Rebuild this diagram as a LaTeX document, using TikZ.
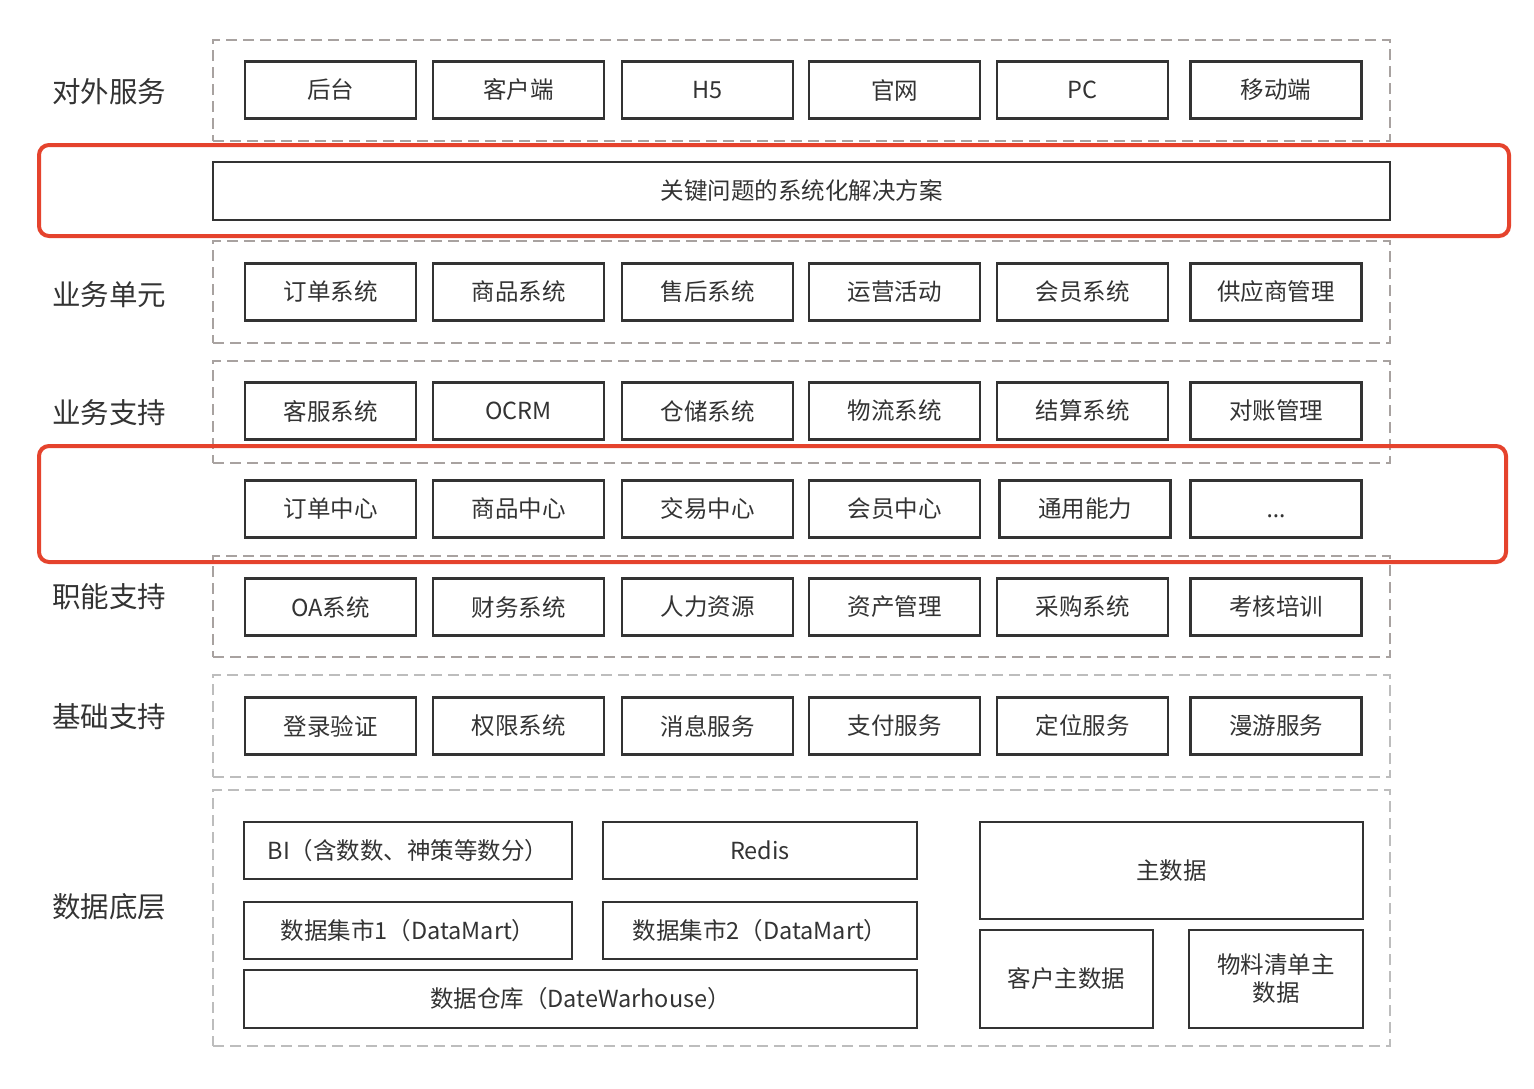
\documentclass[tikz,border=0pt]{standalone}
\usepackage{fontspec}
\setmainfont{Noto Sans CJK SC}
\newfontfamily\latinf{Noto Sans}
\definecolor{txt}{HTML}{333333}
\definecolor{frame}{HTML}{A8A2A0}
\definecolor{frameb}{HTML}{BDBDBD}
\definecolor{redc}{HTML}{E5432D}
\begin{document}
\begin{tikzpicture}[x=1pt,y=-1pt,
  box/.style={draw=txt,line width=2.4pt,rectangle,inner sep=0pt,text=txt,
    font=\fontsize{23.5}{28}\selectfont,minimum width=171pt,minimum height=57pt,align=center},
  layer/.style={draw=frame,line width=2pt,dash pattern=on 11pt off 6pt,rectangle,inner sep=0pt},
  lbl/.style={text=txt,font=\fontsize{28.5}{32}\selectfont,inner sep=0pt},
  hilite/.style={draw=redc,line width=4pt,rounded corners=10pt}]
\useasboundingbox (0,0) rectangle (1534,1088);
% dashed layer frames
\node[layer,minimum width=1177pt,minimum height=101pt] (L1) at (801.5,90.5) {};
\node[layer,minimum width=1177pt,minimum height=102pt] (L2) at (801.5,292) {};
\node[layer,minimum width=1177pt,minimum height=102pt] (L3) at (801.5,412) {};
\node[layer,minimum width=1177pt,minimum height=101pt] (L4) at (801.5,606.5) {};
\node[layer,draw=frameb,minimum width=1177pt,minimum height=102pt] (L5) at (801.5,726) {};
\node[layer,draw=frameb,minimum width=1177pt,minimum height=256pt] (L6) at (801.5,918) {};
% left labels
\node[lbl] (t1) at (109,92) {对外服务};
\node[lbl] (t2) at (109,295) {业务单元};
\node[lbl] (t3) at (109,413) {业务支持};
\node[lbl] (t4) at (109,597) {职能支持};
\node[lbl] (t5) at (109,717) {基础支持};
\node[lbl] (t6) at (109,907) {数据底层};
% row 1
\node[box] (a1) at (330.5,90) {后台};
\node[box] (a2) at (518.5,90) {客户端};
\node[box] (a3) at (707.5,90) {H5};
\node[box] (a4) at (894.5,90) {官网};
\node[box] (a5) at (1082.5,90) {PC};
\node[box] (a6) at (1276,90) {移动端};
% key solution
\node[box,minimum width=1177pt,minimum height=58pt] (key) at (801.5,191) {关键问题的系统化解决方案};
% row 2
\node[box] (b1) at (330.5,292) {订单系统};
\node[box] (b2) at (518.5,292) {商品系统};
\node[box] (b3) at (707.5,292) {售后系统};
\node[box] (b4) at (894.5,292) {运营活动};
\node[box] (b5) at (1082.5,292) {会员系统};
\node[box] (b6) at (1276,292) {供应商管理};
% row 3
\node[box] (c1) at (330.5,411) {客服系统};
\node[box] (c2) at (518.5,411) {OCRM};
\node[box] (c3) at (707.5,411) {仓储系统};
\node[box] (c4) at (894.5,411) {物流系统};
\node[box] (c5) at (1082.5,411) {结算系统};
\node[box] (c6) at (1276,411) {对账管理};
% centres
\node[box] (d1) at (330.5,509) {订单中心};
\node[box] (d2) at (518.5,509) {商品中心};
\node[box] (d3) at (707.5,509) {交易中心};
\node[box] (d4) at (894.5,509) {会员中心};
\node[box] (d5) at (1085,509) {通用能力};
\node[box] (d6) at (1276,509) {\vphantom{中}{\latinf ...}};
% row 4
\node[box] (e1) at (330.5,607) {OA系统};
\node[box] (e2) at (518.5,607) {财务系统};
\node[box] (e3) at (707.5,607) {人力资源};
\node[box] (e4) at (894.5,607) {资产管理};
\node[box] (e5) at (1082.5,607) {采购系统};
\node[box] (e6) at (1276,607) {考核培训};
% row 5
\node[box] (f1) at (330.5,726) {登录验证};
\node[box] (f2) at (518.5,726) {权限系统};
\node[box] (f3) at (707.5,726) {消息服务};
\node[box] (f4) at (894.5,726) {支付服务};
\node[box] (f5) at (1082.5,726) {定位服务};
\node[box] (f6) at (1276,726) {漫游服务};
% data layer
\node[box,minimum width=328pt] (g1) at (408,850.5) {BI（含数数、神策等数分）};
\node[box,minimum width=314pt] (g2) at (760,850.5) {Redis};
\node[box,minimum width=328pt] (g3) at (408,930.5) {数据集市1（DataMart）};
\node[box,minimum width=314pt] (g4) at (760,930.5) {数据集市2（DataMart）};
\node[box,minimum width=673pt,minimum height=58pt] (g5) at (580.5,999) {数据仓库（DateWarhouse）};
\node[box,minimum width=383pt,minimum height=97pt] (h1) at (1171.5,870.5) {主数据};
\node[box,minimum width=173pt,minimum height=98pt] (h2) at (1066.5,979) {客户主数据};
\node[box,minimum width=174pt,minimum height=98pt] (h3) at (1276,979) {物料清单主\\数据};
% red highlights
\draw[hilite] (39,145) rectangle (1509,236);
\draw[hilite] (39,446) rectangle (1506,562);
\end{tikzpicture}
\end{document}
